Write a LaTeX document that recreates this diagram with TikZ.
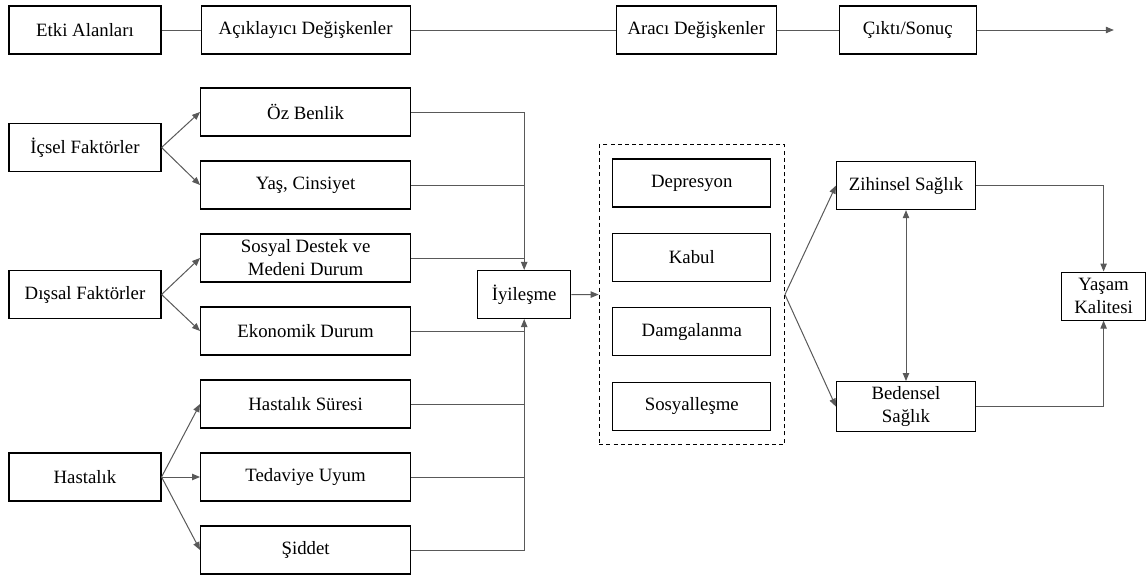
\documentclass[tikz,border=0pt]{standalone}
\usepackage{fontspec}
\setmainfont{Liberation Serif}
\usetikzlibrary{arrows.meta,positioning,calc,fit}

\begin{document}
\begin{tikzpicture}[
  >={Triangle[length=4pt,width=3.2pt]},
  box/.style={draw, line width=0.55pt, minimum height=24pt, inner ysep=0pt,
              align=center, font=\fontsize{9.4}{11.5}\selectfont},
  leftbox/.style={box, minimum width=76pt},
  factor/.style={box, minimum width=105pt},
  inbox/.style={box, minimum width=79pt},
  health/.style={box, minimum width=69.5pt},
  link/.style={line width=0.5pt, draw=black!65},
  arr/.style={->, link},
]
\useasboundingbox (0,0) rectangle (574pt,-289pt);

% Header row
\node[leftbox] (etki) at (42.5pt,-15pt) {Etki Alanları};
\node[box, minimum width=104.5pt, right=19.5pt of etki] (acik) {Açıklayıcı Değişkenler};
\node[box, minimum width=80pt, right=102.5pt of acik] (araci) {Aracı Değişkenler};
\node[box, minimum width=68.5pt, right=31pt of araci] (cikti) {Çıktı/Sonuç};
\coordinate[right=68.5pt of cikti.east] (out);

% Factors (middle column)
\node[factor, on grid, below=41pt of acik] (oz) {Öz Benlik};
\node[factor, on grid, below=36.5pt of oz] (yascins) {Yaş, Cinsiyet};
\node[factor, on grid, below=36.5pt of yascins] (sosyal) {Sosyal Destek ve\\Medeni Durum};
\node[factor, on grid, below=36.5pt of sosyal] (eko) {Ekonomik Durum};
\node[factor, on grid, below=36.5pt of eko] (hsure) {Hastalık Süresi};
\node[factor, on grid, below=36.5pt of hsure] (tedavi) {Tedaviye Uyum};
\node[factor, on grid, below=36.5pt of tedavi] (siddet) {Şiddet};

% Groups (left column)
\node[leftbox, on grid, below=58.75pt of etki] (icsel) {İçsel Faktörler};
\node[leftbox, on grid, below=73.5pt of icsel] (dissal) {Dışsal Faktörler};
\node[leftbox, on grid, below=91.25pt of dissal] (hast) {Hastalık};

% Recovery
\coordinate (m1) at ($(sosyal.east)!0.5!(eko.east)$);
\node[box, minimum width=46.5pt, right=33pt of m1] (iyi) {İyileşme};

% Mediators (dashed group)
\node[inbox, right=20.5pt of iyi, yshift=55.75pt] (dep) {Depresyon};
\node[inbox, on grid, below=37.2pt of dep] (kabul) {Kabul};
\node[inbox, on grid, below=37.2pt of kabul] (damga) {Damgalanma};
\node[inbox, on grid, below=37.2pt of damga] (sosl) {Sosyalleşme};
\node[draw, dash pattern=on 2pt off 1.6pt, line width=0.6pt,
      inner xsep=6.5pt, inner ysep=7pt, fit=(dep)(sosl)] (grp) {};

% Outcomes
\node[health, right=25.5pt of grp, yshift=54.5pt] (zih) {Zihinsel Sağlık};
\node[health, minimum height=25pt, on grid, below=110.5pt of zih] (bed) {Bedensel\\Sağlık};
\coordinate (m2) at ($(zih.east)!0.5!(bed.east)$);
\node[box, minimum width=42pt, right=42.5pt of m2] (yasam) {Yaşam\\Kalitesi};

% header links
\draw[link] (etki) -- (acik);
\draw[link] (acik) -- (araci);
\draw[link] (araci) -- (cikti);
\draw[arr] (cikti) -- (out);

% groups -> factors
\draw[arr] (icsel.east) -- (oz.west);
\draw[arr] (icsel.east) -- (yascins.west);
\draw[arr] (dissal.east) -- (sosyal.west);
\draw[arr] (dissal.east) -- (eko.west);
\draw[arr] (hast.east) -- (hsure.west);
\draw[arr] (hast.east) -- (tedavi.west);
\draw[arr] (hast.east) -- (siddet.west);

% factors -> recovery
\draw[arr] (oz.east) -| (iyi.north);
\draw[link] (yascins.east) -- (yascins.east -| iyi);
\draw[link] (sosyal.east) -- (sosyal.east -| iyi);
\draw[arr] (siddet.east) -| (iyi.south);
\draw[link] (eko.east) -- (eko.east -| iyi);
\draw[link] (hsure.east) -- (hsure.east -| iyi);
\draw[link] (tedavi.east) -- (tedavi.east -| iyi);

% recovery -> mediators -> outcomes
\draw[arr] (iyi.east) -- (grp.west);
\draw[arr] (grp.east) -- (zih.west);
\draw[arr] (grp.east) -- (bed.west);
\draw[<->, link] (zih) -- (bed);
\draw[arr] (zih.east) -| (yasam.north);
\draw[arr] (bed.east) -| (yasam.south);

\end{tikzpicture}
\end{document}
